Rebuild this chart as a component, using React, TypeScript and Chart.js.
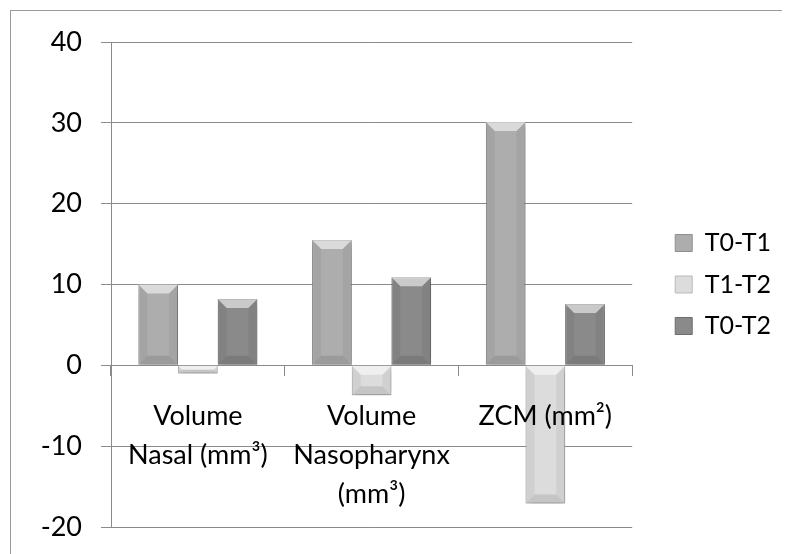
import React, { useEffect, useRef } from "react";
import { Chart, registerables } from "chart.js";

Chart.register(...registerables);

const categories: string[][] = [
  ["Volume", "Nasal (mm³)"],
  ["Volume", "Nasopharynx", "(mm³)"],
  ["ZCM (mm²)"],
];
const seriesNames = ["T0-T1", "T1-T2", "T0-T2"];
const t0t1 = [10.0, 15.5, 30.1];
const t1t2 = [-1.0, -3.7, -17.1];
const t0t2 = [8.2, 10.9, 7.6];
const yMin = -20;
const yMax = 40;
const yStep = 10;

const fills = ["#adadad", "#dcdcdc", "#8a8a8a"];
const borders = ["#8e8e8e", "#bababa", "#6c6c6c"];
const FONT = "Lato, 'Open Sans', sans-serif";
const GRID = "#8a8a8a";

const bevelPlugin = {
  id: "bevel",
  beforeDatasetDraw(chart: any) {
    const ctx = chart.ctx;
    ctx.save();
    ctx.shadowColor = "rgba(0,0,0,0.28)";
    ctx.shadowBlur = 7;
    ctx.shadowOffsetX = 2;
    ctx.shadowOffsetY = 3;
  },
  afterDatasetDraw(chart: any) {
    chart.ctx.restore();
  },
  afterDatasetsDraw(chart: any) {
    const ctx = chart.ctx;
    chart.data.datasets.forEach((_d: any, di: number) => {
      const meta = chart.getDatasetMeta(di);
      meta.data.forEach((el: any) => {
        const p = el.getProps(["x", "y", "base", "width"], true);
        const l = p.x - p.width / 2;
        const r = p.x + p.width / 2;
        const t = Math.min(p.y, p.base);
        const b = Math.max(p.y, p.base);
        const h = b - t;
        const bv = Math.min(9, h / 2, p.width / 2);
        if (h < 1) return;
        ctx.save();
        ctx.fillStyle = "rgba(255,255,255,0.55)";
        ctx.beginPath();
        ctx.moveTo(l, t);
        ctx.lineTo(r, t);
        ctx.lineTo(r - bv, t + bv);
        ctx.lineTo(l + bv, t + bv);
        ctx.closePath();
        ctx.fill();
        ctx.fillStyle = "rgba(0,0,0,0.10)";
        ctx.beginPath();
        ctx.moveTo(l, b);
        ctx.lineTo(r, b);
        ctx.lineTo(r - bv, b - bv);
        ctx.lineTo(l + bv, b - bv);
        ctx.closePath();
        ctx.fill();
        ctx.fillStyle = "rgba(0,0,0,0.05)";
        ctx.beginPath();
        ctx.moveTo(l, t);
        ctx.lineTo(l + bv, t + bv);
        ctx.lineTo(l + bv, b - bv);
        ctx.lineTo(l, b);
        ctx.closePath();
        ctx.fill();
        ctx.beginPath();
        ctx.moveTo(r, t);
        ctx.lineTo(r - bv, t + bv);
        ctx.lineTo(r - bv, b - bv);
        ctx.lineTo(r, b);
        ctx.closePath();
        ctx.fill();
        ctx.restore();
      });
    });
  },
};

export default function App() {
  const ref = useRef<HTMLCanvasElement | null>(null);

  useEffect(() => {
    if (!ref.current) return;
    const chart = new Chart(ref.current, {
      type: "bar",
      data: {
        labels: categories,
        datasets: [t0t1, t1t2, t0t2].map((vals, i) => ({
          label: seriesNames[i],
          data: vals,
          backgroundColor: fills[i],
          borderColor: borders[i],
          borderWidth: 1,
          categoryPercentage: 0.685,
          barPercentage: 1.0,
        })),
      },
      options: {
        responsive: true,
        maintainAspectRatio: false,
        animation: false,
        layout: { padding: { left: 0, top: 34, right: 9, bottom: 27 } },
        plugins: {
          tooltip: { enabled: false },
          legend: {
            position: "right",
            align: "center",
            labels: {
              color: "#000",
              font: { family: FONT, size: 25 },
              boxWidth: 17,
              boxHeight: 17,
              padding: 16.5,
            },
          },
        },
        scales: {
          x: {
            position: { y: 0 } as any,
            grid: {
              display: true,
              drawOnChartArea: false,
              drawTicks: true,
              tickLength: 10,
              color: GRID,
              offset: true,
            },
            border: { display: true, color: GRID, width: 1 },
            ticks: {
              z: 1,
              color: "#000",
              font: { family: FONT, size: 27, lineHeight: 1.45 },
              padding: 21.5,
              maxRotation: 0,
              autoSkip: false,
            },
          },
          y: {
            min: yMin,
            max: yMax,
            ticks: {
              stepSize: yStep,
              color: "#000",
              font: { family: FONT, size: 27, lineHeight: 0.3 },
              padding: 19,
            },
            grid: { color: GRID, tickLength: 10, lineWidth: 1 },
            border: { display: true, color: GRID, width: 1 },
            afterFit: (s: any) => {
              s.width = 103;
            },
          },
          gap: {
            type: "linear",
            position: "right",
            display: true,
            grid: { display: false, drawTicks: false },
            border: { display: false },
            ticks: { display: false },
            afterFit: (s: any) => {
              s.width = 26.5;
            },
          },
        },
      },
      plugins: [bevelPlugin],
    });
    return () => chart.destroy();
  }, []);

  return (
    <div
      style={{
        position: "relative",
        width: 782,
        height: 546,
        overflow: "hidden",
      }}
    >
      <div
        style={{
          position: "absolute",
          left: 2,
          top: 2,
          width: 900,
          height: 700,
          border: "1px solid #9a9a9a",
        }}
      />
      <canvas ref={ref} style={{ position: "relative" }} />
    </div>
  );
}
